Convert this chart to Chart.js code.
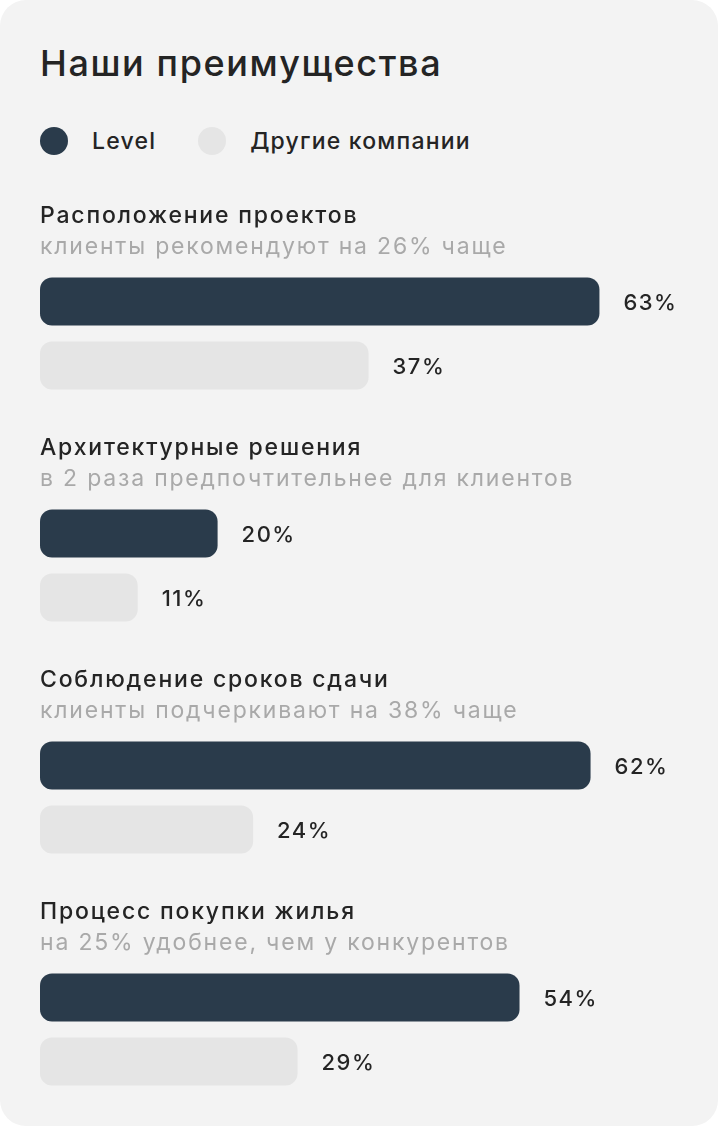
<!DOCTYPE html>
<html lang="ru">
<head>
<meta charset="utf-8">
<title>Наши преимущества</title>
<script src="https://cdn.jsdelivr.net/npm/chart.js@4.4.0/dist/chart.umd.min.js"></script>
<style>
  html, body {
    margin: 0;
    padding: 0;
    background: #ffffff;
    overflow: hidden;
  }
  .card {
    position: relative;
    width: 718px;
    height: 1126px;
    background: #f3f3f3;
    border-radius: 26px;
    overflow: hidden;
    font-family: Inter, "Noto Sans", sans-serif;
    color: #242424;
  }
  .card h1 {
    position: absolute;
    left: 40px;
    top: 42px;
    margin: 0;
    font-size: 36px;
    line-height: 42px;
    font-weight: 500;
    letter-spacing: 1.6px;
  }
  .legend {
    position: absolute;
    left: 40px;
    top: 127px;
    display: flex;
    align-items: center;
  }
  .legend-item {
    display: flex;
    align-items: center;
    margin-right: 42px;
    font-size: 23px;
    font-weight: 500;
    letter-spacing: 1.2px;
  }
  .legend-dot {
    width: 28px;
    height: 28px;
    border-radius: 50%;
    margin-right: 24px;
  }
  .chart-box {
    position: absolute;
    left: 0;
    top: 180px;
    width: 718px;
    height: 980px;
  }
</style>
</head>
<body>
<div class="card">
  <h1>Наши преимущества</h1>
  <div class="legend" id="legend"></div>
  <div class="chart-box">
    <canvas id="myChart"></canvas>
  </div>
</div>

<script>
const categories = ['Расположение проектов', 'Архитектурные решения', 'Соблюдение сроков сдачи', 'Процесс покупки жилья'];
const subtitles = ['клиенты рекомендуют на 26% чаще', 'в 2 раза предпочтительнее для клиентов', 'клиенты подчеркивают на 38% чаще', 'на 25% удобнее, чем у конкурентов'];
const seriesNames = ['Level', 'Другие компании'];
const levelValues = [63, 20, 62, 54];
const otherValues = [37, 11, 24, 29];
const seriesColors = ['#2a3b4b', '#e5e5e5'];

const fontFamily = 'Inter, "Noto Sans", sans-serif';

// legend built from the series
const legendBox = document.getElementById('legend');
seriesNames.forEach((name, i) => {
    const item = document.createElement('div');
    item.className = 'legend-item';
    const dot = document.createElement('span');
    dot.className = 'legend-dot';
    dot.style.background = seriesColors[i];
    item.appendChild(dot);
    item.appendChild(document.createTextNode(name));
    legendBox.appendChild(item);
});

// group titles above each pair of bars
const groupTitles = {
    id: 'groupTitles',
    afterDraw(chart) {
        const ctx = chart.ctx;
        const yScale = chart.scales.y;
        const left = chart.chartArea.left;
        ctx.save();
        ctx.textAlign = 'left';
        ctx.textBaseline = 'alphabetic';
        ctx.letterSpacing = '1.8px';
        categories.forEach((cat, i) => {
            const y = yScale.getPixelForValue(i);
            ctx.font = '500 23px ' + fontFamily;
            ctx.fillStyle = '#242424';
            ctx.fillText(cat, left, y - 111);
            ctx.font = '400 23px ' + fontFamily;
            ctx.fillStyle = '#a9a9a9';
            ctx.fillText(subtitles[i], left, y - 80);
        });
        ctx.restore();
    }
};

// percent labels next to the bars
const valueLabels = {
    id: 'valueLabels',
    afterDatasetsDraw(chart) {
        const ctx = chart.ctx;
        ctx.save();
        ctx.font = '500 22px ' + fontFamily;
        ctx.letterSpacing = '1.5px';
        ctx.fillStyle = '#242424';
        ctx.textAlign = 'left';
        ctx.textBaseline = 'alphabetic';
        chart.data.datasets.forEach((ds, d) => {
            chart.getDatasetMeta(d).data.forEach((bar, i) => {
                ctx.fillText(ds.data[i] + '%', bar.x + 24, bar.y + 8);
            });
        });
        ctx.restore();
    }
};

const data = {
    labels: categories,
    datasets: [
        {
            label: seriesNames[0],
            data: levelValues,
            backgroundColor: seriesColors[0],
            borderRadius: 12,
            borderSkipped: false,
            categoryPercentage: 128 / 232,
            barPercentage: 0.75
        },
        {
            label: seriesNames[1],
            data: otherValues,
            backgroundColor: seriesColors[1],
            borderRadius: 12,
            borderSkipped: false,
            categoryPercentage: 128 / 232,
            barPercentage: 0.75
        }
    ]
};

const config = {
    type: 'bar',
    data: data,
    options: {
        indexAxis: 'y',
        responsive: true,
        maintainAspectRatio: false,
        animation: false,
        layout: {
            padding: { left: 40, right: 12, top: 37.5, bottom: 14.5 }
        },
        plugins: {
            legend: { display: false },
            tooltip: { enabled: false }
        },
        scales: {
            x: {
                display: false,
                min: 0,
                max: 75
            },
            y: {
                display: false,
                offset: true
            }
        }
    },
    plugins: [groupTitles, valueLabels]
};

const myChart = new Chart(document.getElementById('myChart'), config);
</script>
</body>
</html>
